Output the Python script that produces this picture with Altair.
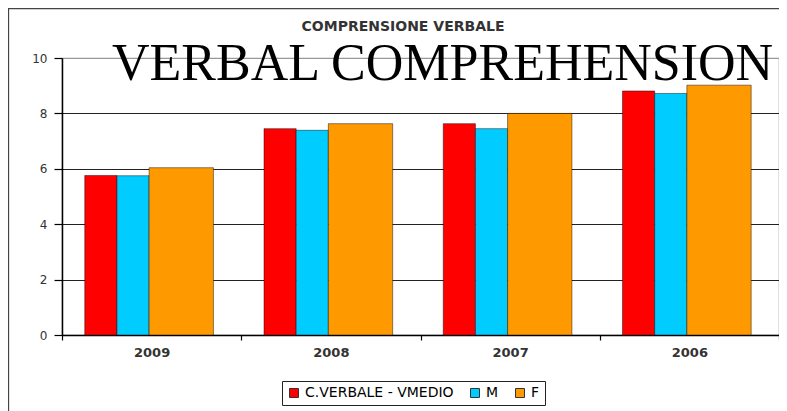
import altair as alt
import pandas as pd

years = ["2009", "2008", "2007", "2006"]
series = ["C.VERBALE - VMEDIO", "M", "F"]
vmedio = [5.76, 7.45, 7.63, 8.81]
maschi = [5.75, 7.39, 7.45, 8.72]
femmine = [6.04, 7.63, 8.00, 9.02]
colors = ["#FF0000", "#00CCFF", "#FF9900"]
y_ticks = [0, 2, 4, 6, 8, 10]
title_it = "COMPRENSIONE VERBALE"
title_en = "VERBAL COMPREHENSION"

rows = []
for name, vals in zip(series, [vmedio, maschi, femmine]):
    for yr, v in zip(years, vals):
        rows.append({"anno": yr, "serie": name, "valore": v})
df = pd.DataFrame(rows)

W, H = 717, 277
sans = "DejaVu Sans"

x_enc = alt.X(
    "anno:N", sort=years,
    scale=alt.Scale(paddingInner=0, paddingOuter=0),
    axis=alt.Axis(title=None, labelAngle=0, tickBand="extent", tickSize=5,
                  labelPadding=6, labelFont=sans, labelFontSize=13,
                  labelFontWeight="bold", labelColor="#333333",
                  domainColor="#000000", domainWidth=1.5,
                  tickColor="#000000", tickWidth=1.2, grid=False),
)
y_enc = alt.Y(
    "valore:Q",
    scale=alt.Scale(domain=[0, 10], nice=False),
    axis=alt.Axis(title=None, values=y_ticks, tickSize=8, labelPadding=7,
                  labelFont=sans, labelFontSize=12, labelColor="#333333",
                  domainColor="#000000", domainWidth=1.5,
                  tickColor="#000000", tickWidth=1.2,
                  grid=True, gridWidth=1.2,
                  gridColor={"condition": {"test": "datum.value === 10", "value": "#999999"},
                             "value": "#222222"}),
)
color_enc = alt.Color(
    "serie:N",
    scale=alt.Scale(domain=series, range=colors),
    legend=alt.Legend(orient="none", legendX=220, legendY=323,
                      direction="horizontal", title=None,
                      symbolType="square", symbolSize=81,
                      symbolStrokeColor="#333333", symbolStrokeWidth=1,
                      labelFont=sans, labelFontSize=14, labelColor="#000000",
                      labelOffset=4, columnPadding=14, padding=5,
                      strokeColor="#222222", fillColor="#ffffff"),
)

base = alt.Chart(df)
bar_style = dict(stroke="#000000", strokeOpacity=0.45, strokeWidth=1)

bars_vm = base.transform_filter(
    alt.FieldOneOfPredicate(field="serie", oneOf=series[:2])
).mark_bar(**bar_style).encode(
    x=x_enc, y=y_enc, color=color_enc,
    xOffset=alt.XOffset("serie:N", scale=alt.Scale(
        domain=series[:2] + ["_3", "_4"], paddingInner=0, paddingOuter=0.786, align=0.45)),
)
bars_f = base.transform_filter(
    alt.FieldEqualPredicate(field="serie", equal="F")
).mark_bar(**bar_style).encode(
    x=x_enc, y=y_enc, color=color_enc,
    xOffset=alt.XOffset("serie:N", scale=alt.Scale(
        domain=["_1", "F"], paddingInner=0, paddingOuter=0.393, align=0.45)),
)

one = pd.DataFrame({"k": [0]})
frame = alt.Chart(one).mark_rect(filled=False, stroke="#444444", strokeWidth=1.3).encode(
    x=alt.value(-53.5), x2=alt.value(800), y=alt.value(-49.5), y2=alt.value(420)
)
heading = alt.Chart(one).mark_text(
    text=title_it, font=sans, fontSize=14, fontWeight="bold",
    align="center", baseline="alphabetic", color="#333333"
).encode(x=alt.value(341), y=alt.value(-27))
overlay = alt.Chart(one).mark_text(
    text=title_en, font="Liberation Serif", fontSize=52,
    align="left", baseline="alphabetic", color="#000000"
).encode(x=alt.value(50), y=alt.value(22))

chart = alt.layer(frame, bars_vm, bars_f, heading, overlay).resolve_scale(
    xOffset="independent"
).properties(
    width=W, height=H,
    autosize=alt.AutoSizeParams(type="none"),
    padding={"left": 54, "top": 50, "right": 0, "bottom": 76},
).configure_view(stroke="#999999", strokeWidth=1.2)

chart.save("out.html", embed_options={"renderer": "svg", "actions": False})
